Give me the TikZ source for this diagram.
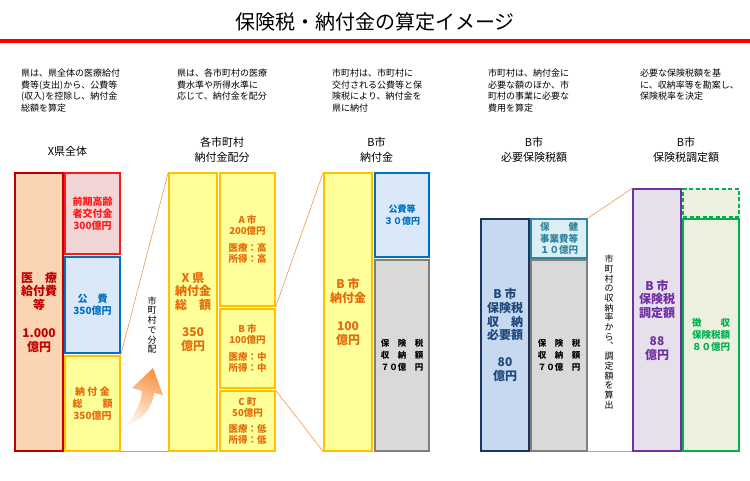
\documentclass[tikz,border=0pt]{standalone}
\usepackage{fontspec}
\setmainfont{Noto Sans CJK JP}
\usetikzlibrary{shadings}
\definecolor{dred}{HTML}{C00000}
\definecolor{salmon}{HTML}{FBD4B4}
\definecolor{pinkf}{HTML}{F2D6D6}
\definecolor{redb}{HTML}{FF1A1A}
\definecolor{bluef}{HTML}{DAE8FA}
\definecolor{blueb}{HTML}{0070C0}
\definecolor{yelf}{HTML}{FFFF99}
\definecolor{yelb}{HTML}{FFC000}
\definecolor{ortxt}{HTML}{E46C0A}
\definecolor{grayf}{HTML}{D9D9D9}
\definecolor{grayb}{HTML}{7F7F7F}
\definecolor{navyf}{HTML}{C6D9F1}
\definecolor{navyb}{HTML}{17375E}
\definecolor{navyt}{HTML}{1F497D}
\definecolor{tealf}{HTML}{DAEEF3}
\definecolor{tealb}{HTML}{31859C}
\definecolor{purf}{HTML}{E6E0EC}
\definecolor{purb}{HTML}{7030A0}
\definecolor{grnf}{HTML}{EBF1DE}
\definecolor{grnb}{HTML}{00B050}
\definecolor{conn}{HTML}{F79646}
\definecolor{titlered}{HTML}{FF0000}
\tikzset{
  bx/.style={rectangle, draw, line width=1.4pt, inner sep=0pt, align=center, font=\bfseries\fontsize{10}{12}\selectfont},
  bigt/.style={font=\bfseries\fontsize{12}{13.8}\selectfont},
  desc/.style={anchor=north west, align=left, inner sep=0pt, font=\fontsize{9}{11.5}\selectfont},
  head/.style={align=center, inner sep=0pt, font=\fontsize{11}{15}\selectfont},
  vtext/.style={align=center, inner sep=0pt, font=\fontsize{9}{9.7}\selectfont},
  cline/.style={draw=conn, line width=0.6pt},
}
\begin{document}
\begin{tikzpicture}[x=1pt,y=-1pt]
\useasboundingbox (0,0) rectangle (750,481);
% title
\node[inner sep=0pt, font=\fontsize{20}{24}\selectfont] (title) at (375,22) {保険税・納付金の算定イメージ};
\fill[titlered] (0,39) rectangle (750,43);
% descriptions
\node[desc] (d1) at (21,69) {県は、県全体の医療給付\\費等(支出)から、公費等\\(収入)を控除し、納付金\\総額を算定};
\node[desc] (d2) at (177,69) {県は、各市町村の医療\\費水準や所得水準に\\応じて、納付金を配分};
\node[desc] (d3) at (332,69) {市町村は、市町村に\\交付される公費等と保\\険税により、納付金を\\県に納付};
\node[desc] (d4) at (488,69) {市町村は、納付金に\\必要な額のほか、市\\町村の事業に必要な\\費用を算定};
\node[desc] (d5) at (640,69) {必要な保険税額を基\\に、収納率等を勘案し、\\保険税率を決定};
% headers
\node[head] (h1) at (67.5,151) {X県全体};
\node[head] (h2) at (222,149.5) {各市町村\\納付金配分};
\node[head] (h3) at (376.5,149.5) {B市\\納付金};
\node[head] (h4) at (534,149.5) {B市\\必要保険税額};
\node[head] (h5) at (686,149.5) {B市\\保険税調定額};
% column 1
\node[bx, bigt, fill=salmon, draw=dred, text=dred, minimum width=48pt, minimum height=278pt] (iryo) at (39,312) {医　療\\給付費\\等\\[13.8pt]1.000\\億円};
\node[bx, fill=pinkf, draw=redb, text=redb, minimum width=55pt, minimum height=81pt] (zenki) at (92.5,213.5) {前期高齢\\者交付金\\300億円};
\node[bx, fill=bluef, draw=blueb, text=blueb, minimum width=55pt, minimum height=96pt] (kohi) at (92.5,305) {公　費\\350億円};
\node[bx, fill=yelf, draw=yelb, text=ortxt, minimum width=55pt, minimum height=95pt] (nouki) at (92.5,403.5) {納 付 金\\総　　額\\350億円};
% arrow
\shade[top color=conn, bottom color=conn!12, shading angle=-25] (125,426) .. controls (134,416) and (141,405) .. (142,391) -- (132,388) -- (153,368) -- (163,395) -- (154,393) .. controls (152,410) and (140,422) .. (125,426) -- cycle;
\node[vtext] (v1) at (152,325) {市\\町\\村\\で\\分\\配};
% column 2
\node[bx, bigt, fill=yelf, draw=yelb, text=ortxt, minimum width=48pt, minimum height=278pt] (xken) at (193,312) {X 県\\納付金\\総　額\\[13.5pt]350\\億円};
\node[bx, font=\bfseries\fontsize{9.5}{11.5}\selectfont, fill=yelf, draw=yelb, text=ortxt, minimum width=55pt, minimum height=133pt] (ashi) at (247.5,239.5) {A 市\\200億円\\[5pt]医療：高\\所得：高};
\node[bx, font=\bfseries\fontsize{9.5}{11.5}\selectfont, fill=yelf, draw=yelb, text=ortxt, minimum width=55pt, minimum height=79pt] (bshi) at (247.5,348.5) {B 市\\100億円\\[5pt]医療：中\\所得：中};
\node[bx, font=\bfseries\fontsize{9.5}{11.5}\selectfont, fill=yelf, draw=yelb, text=ortxt, minimum width=55pt, minimum height=60pt] (cchou) at (247.5,421) {C 町\\50億円\\[4pt]医療：低\\所得：低};
% column 3
\node[bx, bigt, fill=yelf, draw=yelb, text=ortxt, minimum width=48pt, minimum height=278pt] (bnoufu) at (348,312) {B 市\\納付金\\[13.8pt]100\\億円};
\node[bx, font=\bfseries\fontsize{9}{12}\selectfont, fill=bluef, draw=blueb, text=blueb, minimum width=54pt, minimum height=84pt] (kohito) at (402,215) {公費等\\３０億円};
\node[bx, font=\bfseries\fontsize{8.5}{12}\selectfont, fill=grayf, draw=grayb, text=black, minimum width=54pt, minimum height=191pt] (gray1) at (402,355.5) {保　険　税\\収　納　額\\７０億　円};
% column 4
\node[bx, bigt, fill=navyf, draw=navyb, text=navyt, minimum width=48pt, minimum height=232pt] (navy) at (505,335) {B 市\\保険税\\収　納\\必要額\\[13.3pt]80\\億円};
\node[bx, font=\bfseries\fontsize{9.5}{11.5}\selectfont, fill=tealf, draw=tealb, text=tealb, minimum width=56pt, minimum height=39pt] (teal) at (559,238.5) {保　　健\\事業費等\\１０億円};
\node[bx, font=\bfseries\fontsize{8.5}{12}\selectfont, fill=grayf, draw=grayb, text=black, minimum width=56pt, minimum height=191pt] (gray2) at (559,355.5) {保　険　税\\収　納　額\\７０億　円};
\node[vtext] (v2) at (609,332) {市\\町\\村\\の\\収\\納\\率\\か\\ら\\︑\\調\\定\\額\\を\\算\\出};
% column 5
\node[bx, bigt, fill=purf, draw=purb, text=purb, minimum width=48pt, minimum height=262pt] (pur) at (657,320) {B 市\\保険税\\調定額\\[13.8pt]88\\億円};
\node[bx, fill=grnf, draw=grnb, dashed, dash pattern=on 4pt off 2.5pt, minimum width=56pt, minimum height=28pt] (dash) at (711,203) {};
\node[bx, font=\bfseries\fontsize{9.5}{12}\selectfont, fill=grnf, draw=grnb, text=grnb, minimum width=56pt, minimum height=232pt] (grn) at (711,335) {徴　　収\\保険税額\\８０億円};
% connectors
\draw[cline] (nouki.north east) -- (xken.north west);
\draw[cline] (nouki.south east) -- (xken.south west);
\draw[cline] (ashi.south east) -- (bnoufu.north west);
\draw[cline] (cchou.north east) -- (bnoufu.south west);
\draw[cline] (teal.north east) -- (pur.north west);
\draw[cline] (gray2.south east) -- (pur.south west);
\end{tikzpicture}
\end{document}
